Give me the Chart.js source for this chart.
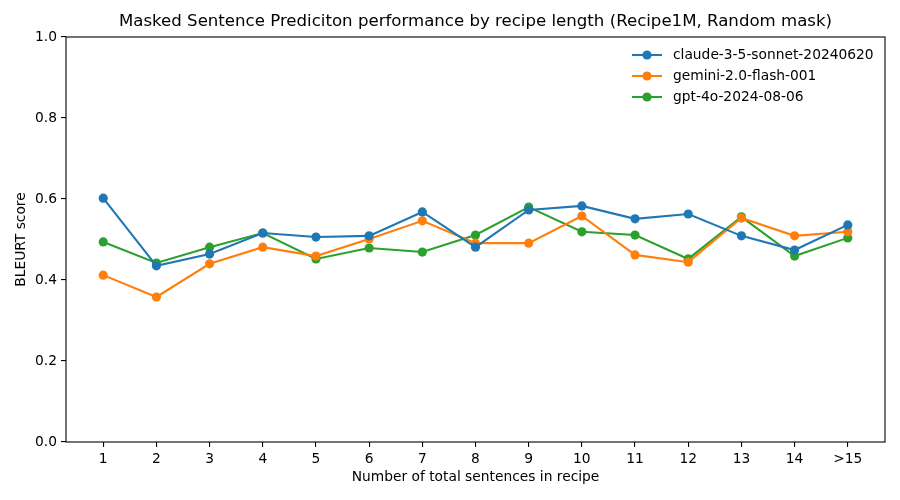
<!DOCTYPE html>
<html>
<head>
<meta charset="utf-8">
<script src="https://cdn.jsdelivr.net/npm/chart.js@4"></script>
<style>
  html, body { margin: 0; padding: 0; background: #fff; }
  canvas { display: block; }
</style>
</head>
<body>
<canvas id="c" width="900" height="500"></canvas>
<script>
const categories = ["1","2","3","4","5","6","7","8","9","10","11","12","13","14",">15"];
const claudeScores = [0.602,0.435,0.464,0.516,0.506,0.509,0.568,0.481,0.573,0.583,0.551,0.563,0.509,0.474,0.536];
const geminiScores = [0.412,0.358,0.440,0.481,0.459,0.501,0.546,0.491,0.491,0.558,0.462,0.444,0.553,0.509,0.519];
const gptScores    = [0.494,0.442,0.481,0.516,0.452,0.479,0.469,0.511,0.580,0.519,0.511,0.452,0.556,0.459,0.504];
const yTicks = [0.0,0.2,0.4,0.6,0.8,1.0];

const titleText = "Masked Sentence Prediciton performance by recipe length (Recipe1M, Random mask)";
const xTitle = "Number of total sentences in recipe";
const yTitle = "BLEURT score";
const FONT = '"DejaVu Sans", sans-serif';

function toPoints(arr) { return arr.map((v, i) => ({ x: i, y: v })); }

function ds(label, data, color) {
  return {
    label: label,
    data: toPoints(data),
    borderColor: color,
    backgroundColor: color,
    borderWidth: 2.1,
    pointRadius: 4.6,
    pointHoverRadius: 4.6,
    pointBorderWidth: 0,
    tension: 0,
    clip: false
  };
}

const decorPlugin = {
  id: 'decor',
  afterDraw(chart) {
    const ctx = chart.ctx;
    const a = chart.chartArea;
    ctx.save();
    ctx.strokeStyle = '#000';
    ctx.lineWidth = 1.1;
    ctx.strokeRect(a.left, a.top, a.right - a.left, a.bottom - a.top);
    ctx.fillStyle = '#000';
    ctx.textAlign = 'center';
    ctx.textBaseline = 'middle';
    ctx.font = '16.6px ' + FONT;
    const cx = (a.left + a.right) / 2;
    ctx.fillText(titleText, cx, 22);
    ctx.font = '13.8px ' + FONT;
    ctx.fillText(xTitle, cx, 477);
    ctx.save();
    ctx.translate(21, (a.top + a.bottom) / 2);
    ctx.rotate(-Math.PI / 2);
    ctx.fillText(yTitle, 0, 0);
    ctx.restore();
    const rows = [55, 76, 97];
    ctx.textAlign = 'left';
    chart.data.datasets.forEach((d, i) => {
      const y = rows[i];
      ctx.strokeStyle = d.borderColor;
      ctx.lineWidth = 2.1;
      ctx.beginPath();
      ctx.moveTo(632, y);
      ctx.lineTo(662, y);
      ctx.stroke();
      ctx.fillStyle = d.borderColor;
      ctx.beginPath();
      ctx.arc(647, y, 4.6, 0, Math.PI * 2);
      ctx.fill();
      ctx.fillStyle = '#000';
      ctx.fillText(d.label, 673, y + 0.5);
    });
    ctx.restore();
  }
};

new Chart(document.getElementById('c'), {
  type: 'line',
  data: {
    datasets: [
      ds('claude-3-5-sonnet-20240620', claudeScores, '#1f77b4'),
      ds('gemini-2.0-flash-001', geminiScores, '#ff7f0e'),
      ds('gpt-4o-2024-08-06', gptScores, '#2ca02c')
    ]
  },
  options: {
    responsive: false,
    animation: false,
    devicePixelRatio: 1,
    layout: { padding: { top: 37, right: 15, left: 0, bottom: 0 } },
    plugins: {
      legend: { display: false },
      title: { display: false },
      tooltip: { enabled: false }
    },
    scales: {
      x: {
        type: 'linear',
        min: -0.7,
        max: categories.length - 1 + 0.7,
        afterBuildTicks(scale) { scale.ticks = categories.map((c, i) => ({ value: i })); },
        afterFit(scale) { scale.height = 58; },
        grid: { display: true, drawOnChartArea: false, drawTicks: true, tickLength: 5, color: '#000', lineWidth: 1.1 },
        border: { display: false },
        ticks: {
          autoSkip: false,
          maxRotation: 0,
          padding: 4,
          color: '#000',
          font: { family: FONT, size: 13.8 },
          callback: (v) => categories[v]
        }
      },
      y: {
        type: 'linear',
        min: 0,
        max: 1,
        afterBuildTicks(scale) { scale.ticks = yTicks.map(v => ({ value: v })); },
        afterFit(scale) { scale.width = 66; },
        grid: { display: true, drawOnChartArea: false, drawTicks: true, tickLength: 5, color: '#000', lineWidth: 1.1 },
        border: { display: false },
        ticks: {
          padding: 4,
          color: '#000',
          font: { family: FONT, size: 13.8 },
          callback: (v) => Number(v).toFixed(1)
        }
      }
    }
  },
  plugins: [decorPlugin]
});
</script>
</body>
</html>
